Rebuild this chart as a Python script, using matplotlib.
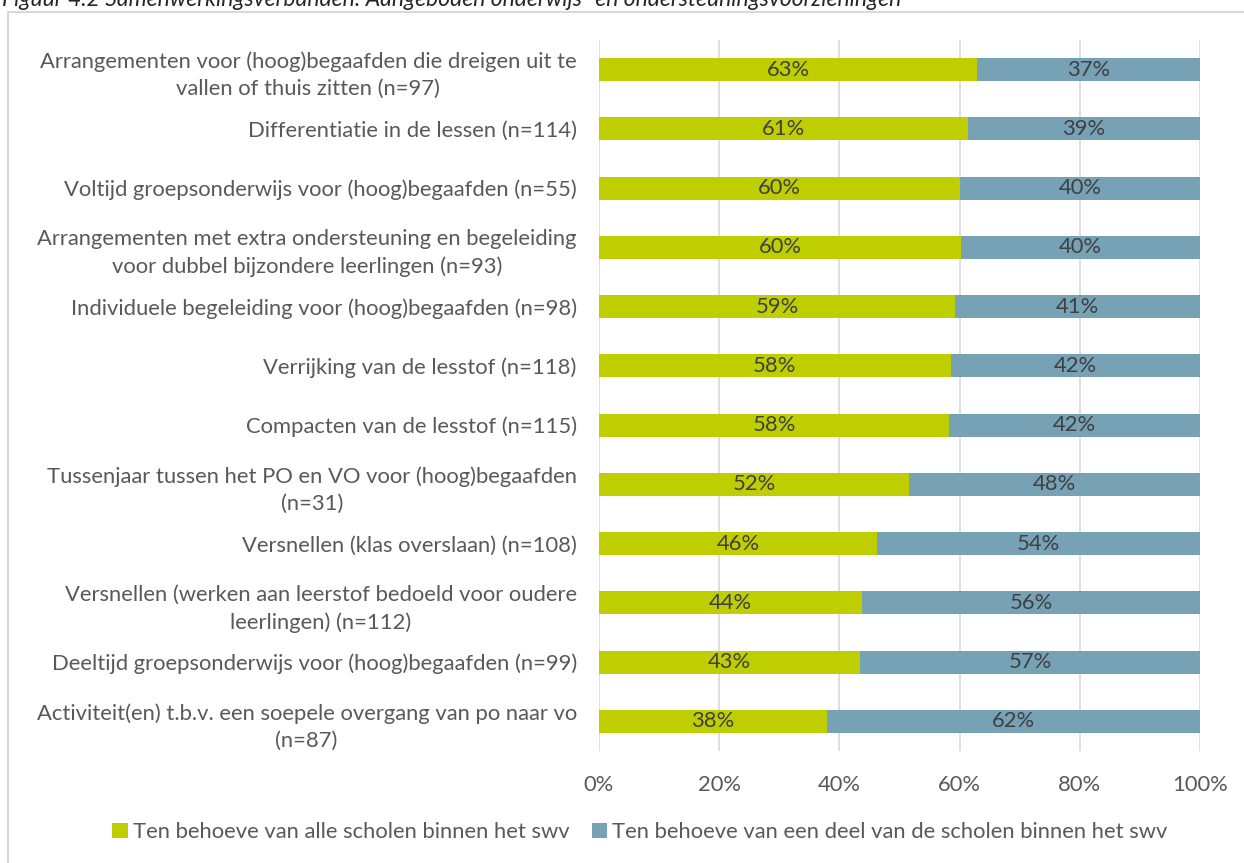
import numpy as np
import matplotlib
matplotlib.use('Agg')
import matplotlib.pyplot as plt
from matplotlib.patches import Rectangle

plt.rcParams['font.family'] = ['Lato', 'DejaVu Sans']

categories = [
    'Arrangementen voor (hoog)begaafden die dreigen uit te\nvallen of thuis zitten (n=97)',
    'Differentiatie in de lessen (n=114)',
    'Voltijd groepsonderwijs voor (hoog)begaafden (n=55)',
    'Arrangementen met extra ondersteuning en begeleiding\nvoor dubbel bijzondere leerlingen (n=93)',
    'Individuele begeleiding voor (hoog)begaafden (n=98)',
    'Verrijking van de lesstof (n=118)',
    'Compacten van de lesstof (n=115)',
    'Tussenjaar tussen het PO en VO voor (hoog)begaafden\n(n=31)',
    'Versnellen (klas overslaan) (n=108)',
    'Versnellen (werken aan leerstof bedoeld voor oudere\nleerlingen) (n=112)',
    'Deeltijd groepsonderwijs voor (hoog)begaafden (n=99)',
    'Activiteit(en) t.b.v. een soepele overgang van po naar vo\n(n=87)',
]
alle = [62.9, 61.4, 60.0, 60.2, 59.2, 58.5, 58.3, 51.6, 46.3, 43.8, 43.4, 37.9]
deel = [100 - v for v in alle]
series_names = ['Ten behoeve van alle scholen binnen het swv',
                'Ten behoeve van een deel van de scholen binnen het swv']
xticks = [0, 20, 40, 60, 80, 100]

GREEN = '#BFCE00'
BLUE = '#77A1B5'
TXT = '#595959'
FS = 15.8

fig = plt.figure(figsize=(12.44, 8.63), dpi=100)
ax = fig.add_axes([599/1244, 1-751/863, 601/1244, 711/863])

y = np.arange(len(categories))
b1 = ax.barh(y, alle, height=0.39, color=GREEN, zorder=3, label=series_names[0])
b2 = ax.barh(y, deel, left=alle, height=0.39, color=BLUE, zorder=3, label=series_names[1])
for bars in (b1, b2):
    for r in bars:
        ax.text(r.get_x() + r.get_width()/2, r.get_y() + r.get_height()/2,
                f'{r.get_width():.0f}%', ha='center', va='center',
                fontsize=FS, color='#404040', zorder=4)

ax.set_ylim(len(categories) - 0.5, -0.5)
ax.set_xlim(0, 100)
ax.set_yticks(y)
ax.set_yticklabels(categories, multialignment='center', fontsize=FS, color=TXT,
                   linespacing=1.45)
ax.set_xticks(xticks)
ax.set_xticklabels([f'{t}%' for t in xticks], fontsize=FS, color=TXT)
ax.tick_params(axis='both', length=0)
ax.tick_params(axis='y', pad=16)
ax.tick_params(axis='x', pad=17)
ax.grid(axis='x', color='#D9D9D9', lw=1.2, zorder=0)
for s in ax.spines.values():
    s.set_visible(False)

fig.legend(handles=[b1, b2], labels=series_names, loc='center',
           bbox_to_anchor=(640/1244, 1-832/863), ncol=2, frameon=False,
           fontsize=FS, labelcolor=TXT, handlelength=0.7, handleheight=0.7,
           handletextpad=0.25, columnspacing=1.0)

# frame of the chart area
fig.patches.append(Rectangle((8/1244, -0.01), 1.1, 1-12/863+0.01, transform=fig.transFigure,
                             fill=False, ec='#D9D9D9', lw=1.5))
fig.text(2/1244, 1.0, 'Figuur 4.2 Samenwerkingsverbanden: Aangeboden onderwijs- en ondersteuningsvoorzieningen',
         fontsize=16.5, style='italic', color='#262626', ha='left', va='center')

fig.savefig('out.png', dpi=100)
